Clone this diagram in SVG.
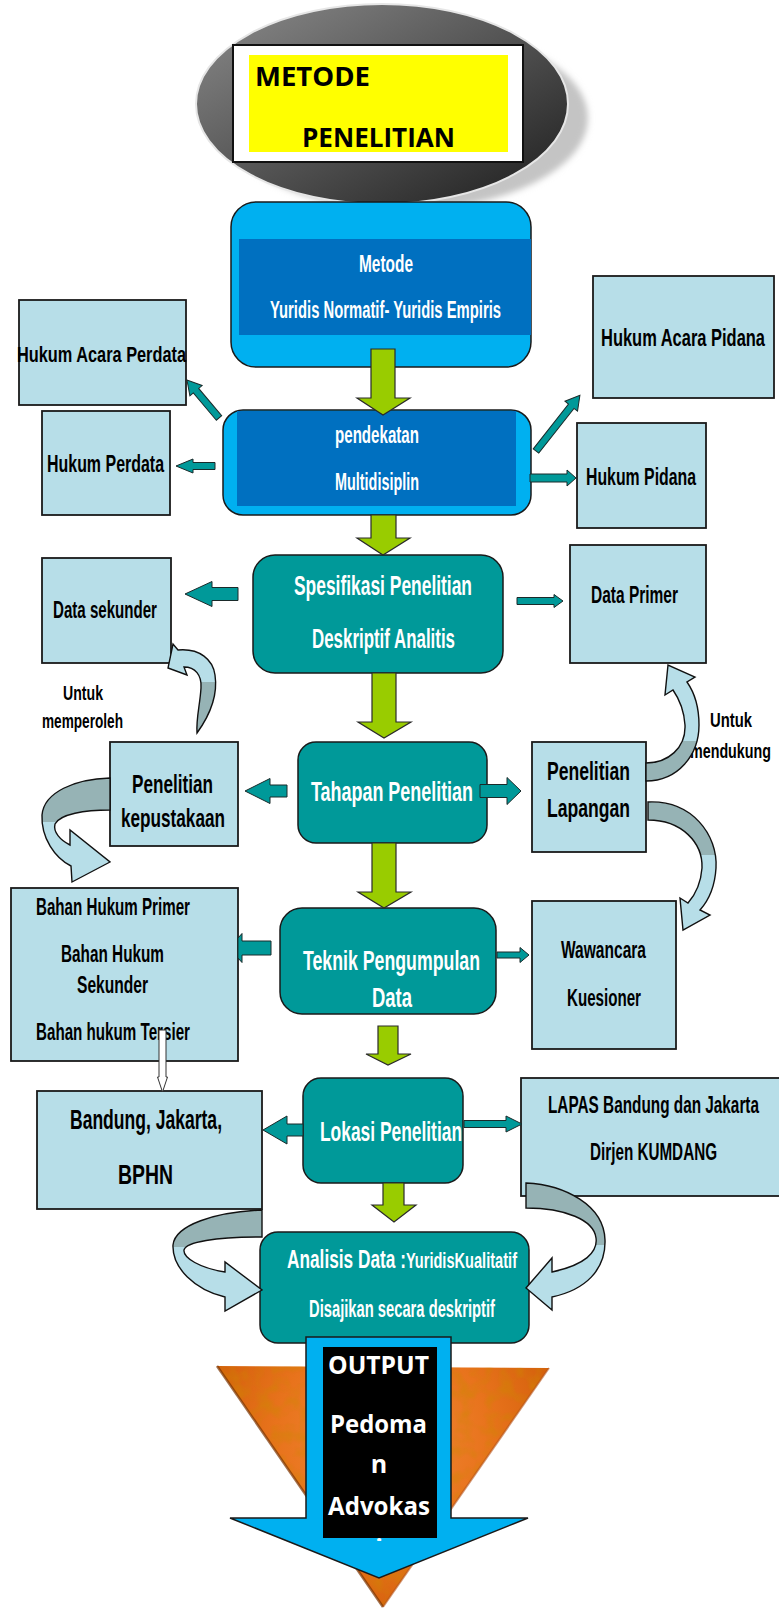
<svg xmlns="http://www.w3.org/2000/svg" width="779" height="1609" viewBox="0 0 779 1609">
<style>
.lb{fill:#B7DEE8;stroke:#1a1a1a;stroke-width:1.8}
.tb{fill:#009999;stroke:#1a1a1a;stroke-width:1.5}
.ga{fill:#99CC00;stroke:#2a2a2a;stroke-width:1.2}
.ta{fill:#009999;stroke:#1a2a2a;stroke-width:1}
.ca{stroke:#111;stroke-width:1.4}
.n{font-family:"Liberation Sans Narrow","Liberation Sans",Arial,sans-serif;font-weight:bold;fill:#000}
.w{fill:#fff}
.o{font-family:"Open Sans","Liberation Sans",sans-serif;font-weight:bold}
</style>
<defs>
<linearGradient id="ellG" x1="0" y1="0" x2="1" y2="1">
<stop offset="0" stop-color="#8c8c8c"/><stop offset="1" stop-color="#1c1c1c"/>
</linearGradient>
<filter id="blur" x="-20%" y="-20%" width="140%" height="140%"><feGaussianBlur stdDeviation="3"/></filter>
<filter id="mottle" x="0" y="0" width="100%" height="100%">
<feTurbulence type="fractalNoise" baseFrequency="0.07" numOctaves="2" seed="4"/>
<feColorMatrix type="matrix" values="0 0 0 0 0.6  0 0 0 0 0.25  0 0 0 0 0  2.4 0 0 0 -1.0"/>
</filter>
<radialGradient id="orG" cx="383" cy="1440" r="180" gradientUnits="userSpaceOnUse">
<stop offset="0" stop-color="#F28B3A"/><stop offset="0.6" stop-color="#E8731C"/><stop offset="1" stop-color="#D4600C"/>
</radialGradient>
<linearGradient id="gA" x1="0" y1="640" x2="0" y2="735" gradientUnits="userSpaceOnUse"><stop offset="0.44" stop-color="#B7DEE8"/><stop offset="0.44" stop-color="#96B3B5"/></linearGradient>
<linearGradient id="gB" x1="0" y1="778" x2="0" y2="882" gradientUnits="userSpaceOnUse"><stop offset="0.42" stop-color="#96B3B5"/><stop offset="0.42" stop-color="#B7DEE8"/></linearGradient>
<linearGradient id="gC" x1="0" y1="660" x2="0" y2="782" gradientUnits="userSpaceOnUse"><stop offset="0.66" stop-color="#B7DEE8"/><stop offset="0.66" stop-color="#96B3B5"/></linearGradient>
<linearGradient id="gD" x1="0" y1="800" x2="0" y2="930" gradientUnits="userSpaceOnUse"><stop offset="0.42" stop-color="#96B3B5"/><stop offset="0.42" stop-color="#B7DEE8"/></linearGradient>
<linearGradient id="gE" x1="0" y1="1210" x2="0" y2="1311" gradientUnits="userSpaceOnUse"><stop offset="0.37" stop-color="#96B3B5"/><stop offset="0.37" stop-color="#B7DEE8"/></linearGradient>
<linearGradient id="gF" x1="0" y1="1183" x2="0" y2="1310" gradientUnits="userSpaceOnUse"><stop offset="0.49" stop-color="#96B3B5"/><stop offset="0.49" stop-color="#B7DEE8"/></linearGradient>
<clipPath id="blk"><rect x="323" y="1347" width="114" height="194"/></clipPath>
<clipPath id="tri"><polygon points="217,1366 549,1368 383,1607"/></clipPath>
</defs>

<g id="title">
<ellipse cx="404" cy="118" rx="184" ry="92" fill="#c4c4c4" filter="url(#blur)"/>
<ellipse cx="382" cy="104" rx="186" ry="100" fill="url(#ellG)" stroke="#e6e6e6" stroke-width="2"/>
<rect x="233" y="45" width="290" height="117" fill="#fff" stroke="#111" stroke-width="2"/>
<rect x="249" y="55" width="259" height="97" fill="#FFFF00"/>
<text class="o" x="255" y="86" font-size="27" textLength="115" lengthAdjust="spacingAndGlyphs">METODE</text>
<text class="o" x="302" y="147" font-size="27" textLength="153" lengthAdjust="spacingAndGlyphs">PENELITIAN</text>
</g>

<g id="metode">
<rect x="231" y="202" width="300" height="165" rx="25" fill="#00B0F0" stroke="#1a1a1a" stroke-width="1.5"/>
<rect x="239" y="239" width="292" height="96" fill="#0070C0"/>
<text class="n w" x="359" y="272" font-size="23" textLength="54" lengthAdjust="spacingAndGlyphs">Metode</text>
<text class="n w" x="270" y="318" font-size="23" textLength="231" lengthAdjust="spacingAndGlyphs">Yuridis Normatif- Yuridis Empiris</text>
</g>

<g id="pendekatan">
<rect x="223" y="410" width="308" height="105" rx="20" fill="#00B0F0" stroke="#1a1a1a" stroke-width="1.5"/>
<rect x="237" y="411" width="279" height="95" fill="#0070C0"/>
<text class="n w" x="335" y="443" font-size="23" textLength="84" lengthAdjust="spacingAndGlyphs">pendekatan</text>
<text class="n w" x="335" y="490" font-size="23" textLength="84" lengthAdjust="spacingAndGlyphs">Multidisiplin</text>
</g>

<g id="hukum-acara-perdata">
<rect class="lb" x="19" y="300" width="167" height="105"/>
<text class="n" x="17" y="362" font-size="22" textLength="169" lengthAdjust="spacingAndGlyphs">Hukum  Acara Perdata</text>
</g>
<g id="hukum-perdata">
<rect class="lb" x="42" y="411" width="128" height="104"/>
<text class="n" x="47" y="472" font-size="23" textLength="117" lengthAdjust="spacingAndGlyphs">Hukum Perdata</text>
</g>
<g id="hukum-acara-pidana">
<rect class="lb" x="593" y="276" width="181" height="122"/>
<text class="n" x="601" y="346" font-size="23" textLength="164" lengthAdjust="spacingAndGlyphs">Hukum  Acara Pidana</text>
</g>
<g id="hukum-pidana">
<rect class="lb" x="577" y="423" width="129" height="105"/>
<text class="n" x="586" y="485" font-size="23" textLength="110" lengthAdjust="spacingAndGlyphs">Hukum Pidana</text>
</g>

<g id="spesifikasi">
<rect class="tb" x="253" y="555" width="250" height="118" rx="22"/>
<text class="n w" x="294" y="595" font-size="28" textLength="178" lengthAdjust="spacingAndGlyphs">Spesifikasi Penelitian</text>
<text class="n w" x="312" y="648" font-size="28" textLength="143" lengthAdjust="spacingAndGlyphs">Deskriptif Analitis</text>
</g>
<g id="data-sekunder">
<rect class="lb" x="42" y="558" width="129" height="105"/>
<text class="n" x="53" y="618" font-size="23" textLength="104" lengthAdjust="spacingAndGlyphs">Data sekunder</text>
</g>
<g id="data-primer">
<rect class="lb" x="570" y="545" width="136" height="118"/>
<text class="n" x="591" y="603" font-size="24" textLength="87" lengthAdjust="spacingAndGlyphs">Data Primer</text>
</g>

<g id="tahapan">
<rect class="tb" x="298" y="742" width="189" height="101" rx="18"/>
<text class="n w" x="311" y="801" font-size="27" textLength="162" lengthAdjust="spacingAndGlyphs">Tahapan Penelitian</text>
</g>
<g id="kepustakaan">
<rect class="lb" x="110" y="742" width="128" height="104"/>
<text class="n" x="132" y="793" font-size="25" textLength="81" lengthAdjust="spacingAndGlyphs">Penelitian</text>
<text class="n" x="121" y="827" font-size="25" textLength="104" lengthAdjust="spacingAndGlyphs">kepustakaan</text>
</g>
<g id="lapangan">
<rect class="lb" x="532" y="742" width="114" height="110"/>
<text class="n" x="547" y="780" font-size="26" textLength="83" lengthAdjust="spacingAndGlyphs">Penelitian</text>
<text class="n" x="547" y="817" font-size="26" textLength="83" lengthAdjust="spacingAndGlyphs">Lapangan</text>
</g>

<g id="teknik">
<rect class="tb" x="280" y="908" width="216" height="106" rx="22"/>
<text class="n w" x="303" y="970" font-size="27" textLength="177" lengthAdjust="spacingAndGlyphs">Teknik Pengumpulan</text>
<text class="n w" x="372" y="1007" font-size="27" textLength="40" lengthAdjust="spacingAndGlyphs">Data</text>
</g>
<g id="bahan-hukum">
<rect class="lb" x="11" y="888" width="227" height="173"/>
<text class="n" x="36" y="915" font-size="23" textLength="154" lengthAdjust="spacingAndGlyphs">Bahan Hukum Primer</text>
<text class="n" x="61" y="962" font-size="23" textLength="103" lengthAdjust="spacingAndGlyphs">Bahan Hukum</text>
<text class="n" x="77" y="993" font-size="23" textLength="71" lengthAdjust="spacingAndGlyphs">Sekunder</text>
<text class="n" x="36" y="1040" font-size="23" textLength="154" lengthAdjust="spacingAndGlyphs">Bahan hukum Tersier</text>
</g>
<g id="wawancara">
<rect class="lb" x="532" y="901" width="144" height="148"/>
<text class="n" x="561" y="958" font-size="23" textLength="85" lengthAdjust="spacingAndGlyphs">Wawancara</text>
<text class="n" x="567" y="1006" font-size="23" textLength="74" lengthAdjust="spacingAndGlyphs">Kuesioner</text>
</g>

<g id="lokasi">
<rect class="tb" x="303" y="1078" width="160" height="105" rx="18"/>
<text class="n w" x="320" y="1141" font-size="28" textLength="142" lengthAdjust="spacingAndGlyphs">Lokasi Penelitian</text>
</g>
<g id="bandung">
<rect class="lb" x="37" y="1091" width="225" height="118"/>
<text class="n" x="70" y="1129" font-size="28" textLength="152" lengthAdjust="spacingAndGlyphs">Bandung, Jakarta,</text>
<text class="n" x="118" y="1184" font-size="28" textLength="55" lengthAdjust="spacingAndGlyphs">BPHN</text>
</g>
<g id="lapas">
<rect class="lb" x="521" y="1078" width="262" height="118"/>
<text class="n" x="548" y="1113" font-size="24" textLength="211" lengthAdjust="spacingAndGlyphs">LAPAS  Bandung dan Jakarta</text>
<text class="n" x="590" y="1160" font-size="24" textLength="127" lengthAdjust="spacingAndGlyphs">Dirjen KUMDANG</text>
</g>

<g id="analisis">
<rect class="tb" x="260" y="1232" width="269" height="111" rx="18"/>
<text class="n w" x="287" y="1268" textLength="230" lengthAdjust="spacingAndGlyphs"><tspan font-size="26">Analisis Data :</tspan><tspan font-size="22">YuridisKualitatif</tspan></text>
<text class="n w" x="309" y="1317" font-size="23" textLength="186" lengthAdjust="spacingAndGlyphs">Disajikan secara deskriptif</text>
</g>

<g id="output">
<polygon points="217,1366 549,1368 383,1607" fill="url(#orG)"/>
<rect x="217" y="1366" width="332" height="241" filter="url(#mottle)" clip-path="url(#tri)" opacity="0.5"/>
<polyline points="217,1366 383,1607" fill="none" stroke="#7a3300" stroke-width="2.5" opacity="0.7"/>
<polyline points="549,1368 383,1607" fill="none" stroke="#b5541a" stroke-width="2" opacity="0.6"/>
<polygon points="306,1337 451,1337 451,1518 528,1518 379,1578 230,1518 306,1518" fill="#00B0F0" stroke="#1a1a1a" stroke-width="1.5"/>
<rect x="323" y="1347" width="114" height="191" fill="#000"/>
<text class="o w" x="328" y="1374" font-size="25" textLength="101" lengthAdjust="spacingAndGlyphs">OUTPUT</text>
<text class="o w" x="330" y="1433" font-size="25" textLength="97" lengthAdjust="spacingAndGlyphs">Pedoma</text>
<text class="o w" x="379" y="1473" font-size="25" text-anchor="middle">n</text>
<text class="o w" x="328" y="1515" font-size="25" textLength="102" lengthAdjust="spacingAndGlyphs">Advokas</text>
<text class="o w" x="379" y="1557" font-size="25" text-anchor="middle" clip-path="url(#blk)">i</text>
</g>

<g id="labels">
<text class="n" x="63" y="700" font-size="21" textLength="40" lengthAdjust="spacingAndGlyphs">Untuk</text>
<text class="n" x="42" y="728" font-size="21" textLength="81" lengthAdjust="spacingAndGlyphs">memperoleh</text>
<text class="n" x="710" y="727" font-size="21" textLength="42" lengthAdjust="spacingAndGlyphs">Untuk</text>
<text class="n" x="690" y="758" font-size="21" textLength="81" lengthAdjust="spacingAndGlyphs">mendukung</text>
</g>

<g id="connectors">
<polygon class="ga" points="371,349 395,349 395,398 410,398 383,415 357,398 371,398"/>
<polygon class="ga" points="371,515 396,515 396,538 410,538 383,555 357,538 371,538"/>
<polygon class="ga" points="372,673 396,673 396,722 411,722 384,738 358,722 372,722"/>
<polygon class="ga" points="372,843 396,843 396,892 411,892 384,908 358,892 372,892"/>
<polygon class="ga" points="378,1026 398,1026 398,1054 411,1054 388,1065 366,1054 378,1054"/>
<polygon class="ga" points="383,1183 404,1183 404,1205 416,1205 394,1222 372,1205 383,1205"/>

<polygon class="ta" transform="translate(219,418) rotate(-130.1)" points="0,-3.5 35.7,-3.5 35.7,-8 49.7,0 35.7,8 35.7,3.5 0,3.5"/>
<polygon class="ta" transform="translate(536,451) rotate(-51.8)" points="0,-3.5 57,-3.5 57,-8 71,0 57,8 57,3.5 0,3.5"/>
<polygon class="ta" points="215,462.5 193,462.5 193,459 176,466 193,473 193,469.5 215,469.5"/>
<polygon class="ta" points="530,474 567,474 567,470 576,478 567,486 567,482 530,482"/>
<polygon class="ta" points="238,587.5 212,587.5 212,581.5 185,594 212,606.5 212,600.5 238,600.5"/>
<polygon class="ta" points="517,597.5 554,597.5 554,594.5 563,601 554,607.5 554,604.5 517,604.5"/>
<polygon class="ta" points="287,785 270,785 270,778.5 245,791 270,803.5 270,797 287,797"/>
<polygon class="ta" points="480,784.5 507,784.5 507,777.5 521,791 507,804.5 507,797.5 480,797.5"/>
<polygon class="ta" points="271,941 242,941 242,933.5 238,938 238,958 242,962.5 242,955 271,955"/>
<polygon class="ta" points="497,952 520,952 520,947.5 529,955 520,962.5 520,958 497,958"/>
<polygon class="ta" points="303,1124 287,1124 287,1116 263,1130 287,1144 287,1136 303,1136"/>
<polygon class="ta" points="464,1120.5 506,1120.5 506,1116 522,1124 506,1132 506,1127.5 464,1127.5"/>

<polygon points="159,1030 166,1030 166,1077 167.5,1077 162.5,1092 157.5,1077 159,1077" fill="#fff" stroke="#333" stroke-width="1"/>

<path class="ca" fill="url(#gA)" d="M197,733 C210,715 218,695 215,675 C213,660 200,648 178,650 L173,644 L168,668 L187,675 L184,667 C195,667 202,675 201,688 C200,705 196,718 197,733 Z"/>
<path class="ca" fill="url(#gB)" d="M110,778 C75,779 44,792 42,815 C41,838 55,858 71,866 L72,882 L110,862 L70,830 L70,845 C60,840 53,832 55,824 C60,814 85,810 110,810 Z"/>
<path class="ca" fill="url(#gC)" d="M646,763 C668,763 686,748 685,725 C684,710 680,700 673,690 L665,695 L668,665 L695,677 L687,682 C694,692 699,708 699,725 C699,755 678,781 646,781 Z"/>
<path class="ca" fill="url(#gD)" d="M648,802 C692,800 718,835 716,868 C715,885 709,900 700,910 L710,915 L683,930 L680,898 L688,903 C695,895 701,882 702,868 C703,843 682,820 648,820 Z"/>
<path class="ca" fill="url(#gE)" d="M262,1210 C215,1212 175,1225 173,1245 C172,1268 195,1290 225,1297 L225,1311 L262,1290 L225,1262 L225,1272 C200,1268 183,1258 184,1250 C186,1242 215,1237 262,1237 Z"/>
<path class="ca" fill="url(#gF)" d="M526,1183 C565,1185 604,1205 605,1240 C606,1270 585,1290 552,1297 L552,1310 L526,1288 L552,1258 L552,1272 C585,1265 598,1252 596,1238 C594,1220 565,1208 526,1208 Z"/>
</g>
</svg>
